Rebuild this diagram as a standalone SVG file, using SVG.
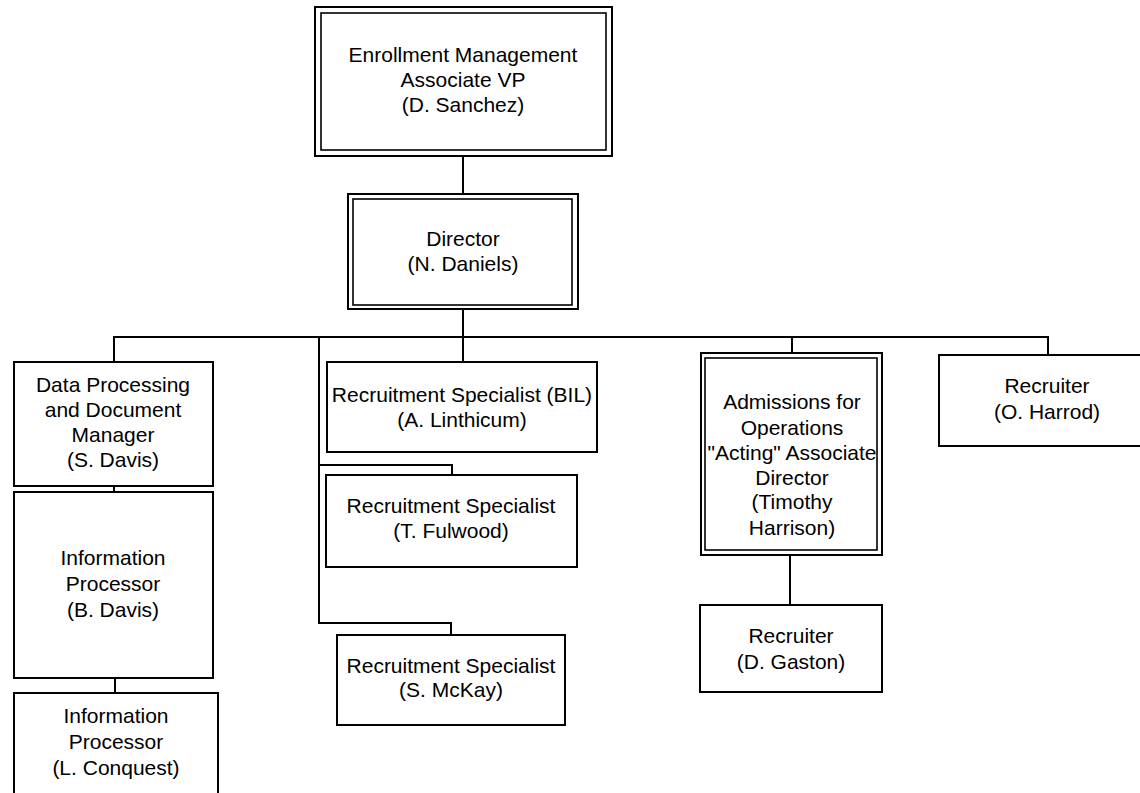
<svg xmlns="http://www.w3.org/2000/svg" width="1140" height="793" viewBox="0 0 1140 793">
<style>
.box{fill:#fff;stroke:#000;stroke-width:2}
.inner{fill:none;stroke:#000;stroke-width:1.6}
.conn{fill:none;stroke:#000;stroke-width:2}
text{font-family:"Liberation Sans",Arial,sans-serif;font-size:21px;fill:#000;text-anchor:middle}
</style>
<rect width="1140" height="793" fill="#fff"/>
<g id="connectors">
<path class="conn" d="M463 156V194"/>
<path class="conn" d="M463 309V362"/>
<path class="conn" d="M114 362V337H1048V355"/>
<path class="conn" d="M792 337V353"/>
<path class="conn" d="M319 337V623H451V635"/>
<path class="conn" d="M319 465H452V475"/>
<path class="conn" d="M114 486V492"/>
<path class="conn" d="M115 678V693"/>
<path class="conn" d="M790 555V605"/>
</g>
<g id="vp">
<rect class="box" x="315" y="7" width="297" height="149"/>
<rect class="inner" x="321" y="13" width="285" height="137"/>
<text x="463" y="62">Enrollment Management</text>
<text x="463" y="87">Associate VP</text>
<text x="463" y="112">(D. Sanchez)</text>
</g>
<g id="director">
<rect class="box" x="348" y="194" width="230" height="115"/>
<rect class="inner" x="353" y="199" width="219" height="106"/>
<text x="463" y="246">Director</text>
<text x="463" y="271">(N. Daniels)</text>
</g>
<g id="sdavis">
<rect class="box" x="14" y="362" width="199" height="124"/>
<text x="113" y="392">Data Processing</text>
<text x="113" y="417">and Document</text>
<text x="113" y="442">Manager</text>
<text x="113" y="467">(S. Davis)</text>
</g>
<g id="bdavis">
<rect class="box" x="14" y="492" width="199" height="186"/>
<text x="113" y="565">Information</text>
<text x="113" y="591">Processor</text>
<text x="113" y="617">(B. Davis)</text>
</g>
<g id="conquest">
<rect class="box" x="14" y="693" width="204" height="110"/>
<text x="116" y="723">Information</text>
<text x="116" y="749">Processor</text>
<text x="116" y="775">(L. Conquest)</text>
</g>
<g id="linthicum">
<rect class="box" x="327" y="362" width="270" height="90"/>
<text x="462" y="402">Recruitment Specialist (BIL)</text>
<text x="462" y="427">(A. Linthicum)</text>
</g>
<g id="fulwood">
<rect class="box" x="326" y="475" width="251" height="92"/>
<text x="451" y="513">Recruitment Specialist</text>
<text x="451" y="538">(T. Fulwood)</text>
</g>
<g id="mckay">
<rect class="box" x="337" y="635" width="228" height="90"/>
<text x="451" y="673">Recruitment Specialist</text>
<text x="451" y="697">(S. McKay)</text>
</g>
<g id="admissions">
<rect class="box" x="701" y="353" width="181" height="202"/>
<rect class="inner" x="705" y="358" width="172" height="192"/>
<text x="792" y="409">Admissions for</text>
<text x="792" y="435">Operations</text>
<text x="792" y="460">"Acting" Associate</text>
<text x="792" y="485">Director</text>
<text x="792" y="509">(Timothy</text>
<text x="792" y="535">Harrison)</text>
</g>
<g id="harrod">
<rect class="box" x="939" y="355" width="216" height="91"/>
<text x="1047" y="393">Recruiter</text>
<text x="1047" y="419">(O. Harrod)</text>
</g>
<g id="gaston">
<rect class="box" x="700" y="605" width="182" height="87"/>
<text x="791" y="643">Recruiter</text>
<text x="791" y="669">(D. Gaston)</text>
</g>
</svg>
